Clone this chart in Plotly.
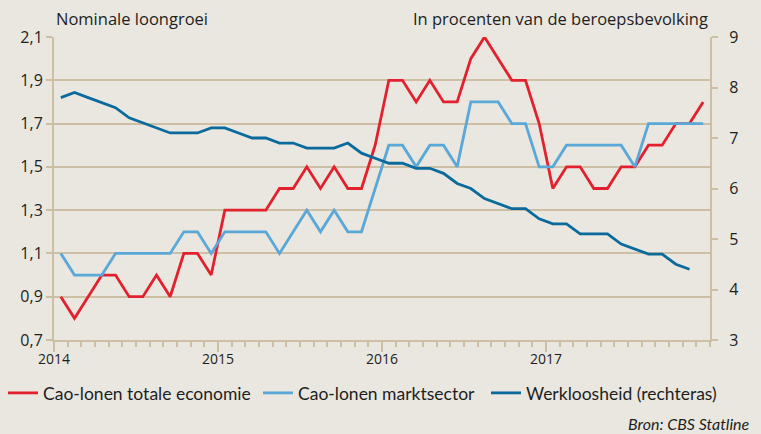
import plotly.graph_objects as go

# Monthly data Jan 2014 - Dec 2017
start_year = 2014
cao_totaal = [0.9, 0.8, 0.9, 1.0, 1.0, 0.9, 0.9, 1.0, 0.9, 1.1, 1.1, 1.0,
              1.3, 1.3, 1.3, 1.3, 1.4, 1.4, 1.5, 1.4, 1.5, 1.4, 1.4, 1.6,
              1.9, 1.9, 1.8, 1.9, 1.8, 1.8, 2.0, 2.1, 2.0, 1.9, 1.9, 1.7,
              1.4, 1.5, 1.5, 1.4, 1.4, 1.5, 1.5, 1.6, 1.6, 1.7, 1.7, 1.8]
cao_markt = [1.1, 1.0, 1.0, 1.0, 1.1, 1.1, 1.1, 1.1, 1.1, 1.2, 1.2, 1.1,
             1.2, 1.2, 1.2, 1.2, 1.1, 1.2, 1.3, 1.2, 1.3, 1.2, 1.2, 1.4,
             1.6, 1.6, 1.5, 1.6, 1.6, 1.5, 1.8, 1.8, 1.8, 1.7, 1.7, 1.5,
             1.5, 1.6, 1.6, 1.6, 1.6, 1.6, 1.5, 1.7, 1.7, 1.7, 1.7, 1.7]
werkloosheid = [7.8, 7.9, 7.8, 7.7, 7.6, 7.4, 7.3, 7.2, 7.1, 7.1, 7.1, 7.2,
                7.2, 7.1, 7.0, 7.0, 6.9, 6.9, 6.8, 6.8, 6.8, 6.9, 6.7, 6.6,
                6.5, 6.5, 6.4, 6.4, 6.3, 6.1, 6.0, 5.8, 5.7, 5.6, 5.6, 5.4,
                5.3, 5.3, 5.1, 5.1, 5.1, 4.9, 4.8, 4.7, 4.7, 4.5, 4.4]
year_ticks = [2014, 2015, 2016, 2017]
year_labels = ["2014", "2015", "2016", "2017"]
left_ticks = [0.7, 0.9, 1.1, 1.3, 1.5, 1.7, 1.9, 2.1]
right_ticks = [3, 4, 5, 6, 7, 8, 9]


def month_x(n):
    return [start_year + (i + 0.5) / 12 for i in range(n)]


BG = "#E9E7DF"
GRID = "#CDBFA3"
TXT = "#1E1E1E"
RED = "#E3202E"
LBLUE = "#5AA8D8"
DBLUE = "#0A6A9C"
FONT = "Open Sans"
LFONT = "Lato"
W, H = 761, 434

fig = go.Figure()
fig.add_trace(go.Scatter(x=month_x(len(cao_totaal)), y=cao_totaal, mode="lines",
                         name="Cao-lonen totale economie", line=dict(color=RED, width=2.8),
                         legend="legend"))
fig.add_trace(go.Scatter(x=month_x(len(cao_markt)), y=cao_markt, mode="lines",
                         name="Cao-lonen marktsector", line=dict(color=LBLUE, width=2.8),
                         legend="legend2"))
fig.add_trace(go.Scatter(x=month_x(len(werkloosheid)), y=werkloosheid, mode="lines",
                         name="Werkloosheid (rechteras)", line=dict(color=DBLUE, width=2.8),
                         yaxis="y2", legend="legend3"))


def leg(xpx):
    return dict(orientation="h", xref="container", yref="container",
                x=xpx / W, y=1 - 393 / H, xanchor="left", yanchor="middle",
                font=dict(family=LFONT, size=17.5, color=TXT),
                bgcolor="rgba(0,0,0,0)", itemclick=False, itemdoubleclick=False)


fig.update_layout(
    width=W, height=H,
    margin=dict(l=54, r=51, t=37, b=94, autoexpand=False),
    paper_bgcolor=BG, plot_bgcolor=BG,
    separators=",.",
    font=dict(family=FONT, color=TXT, size=14),
    showlegend=True,
    legend=leg(3), legend2=leg(258), legend3=leg(486),
    xaxis=dict(range=[2014, 2018], tickvals=year_ticks, ticktext=year_labels,
               showgrid=False, zeroline=False,
               showline=True, linecolor=GRID, linewidth=2,
               ticks="outside", ticklen=10, tickcolor=GRID, tickwidth=1.5,
               ticklabelstandoff=-5,
               minor=dict(dtick=1 / 12, tick0=2014, ticks="outside", ticklen=5,
                          tickcolor=GRID, tickwidth=1.5, showgrid=False),
               tickfont=dict(size=14, color=TXT)),
    yaxis=dict(range=[0.7, 2.1], tickvals=left_ticks, tickformat=".1f",
               showgrid=True, gridcolor=GRID, gridwidth=1.5, zeroline=False,
               showline=True, linecolor=GRID, linewidth=2,
               ticks="outside", ticklen=6, tickcolor=GRID, tickwidth=1.5,
               tickfont=dict(size=16, color=TXT)),
    yaxis2=dict(range=[3, 9], tickvals=right_ticks, overlaying="y", side="right",
                showgrid=False, zeroline=False,
                showline=True, linecolor=GRID, linewidth=2,
                ticks="outside", ticklen=6, tickcolor=GRID, tickwidth=1.5,
                ticklabelstandoff=8,
                tickfont=dict(size=16, color=TXT)),
    annotations=[
        dict(text="Nominale loongroei", xref="paper", yref="paper",
             x=0, y=(340 - 18) / 303, xanchor="left", yanchor="middle",
             showarrow=False, font=dict(size=16.5, color=TXT)),
        dict(text="In procenten van de beroepsbevolking", xref="paper", yref="paper",
             x=1, y=(340 - 18) / 303, xanchor="right", yanchor="middle",
             showarrow=False, font=dict(size=16.5, color=TXT)),
        dict(text="<i>Bron: CBS Statline</i>", xref="paper", yref="paper",
             x=(752 - 54) / 656, y=(340 - 423) / 303, xanchor="right", yanchor="middle",
             showarrow=False, font=dict(family=LFONT, size=16, color=TXT)),
    ],
)

fig.write_html("out.html", config={"displayModeBar": False},
               post_script="document.body.style.margin='0';document.body.style.overflow='hidden';")
